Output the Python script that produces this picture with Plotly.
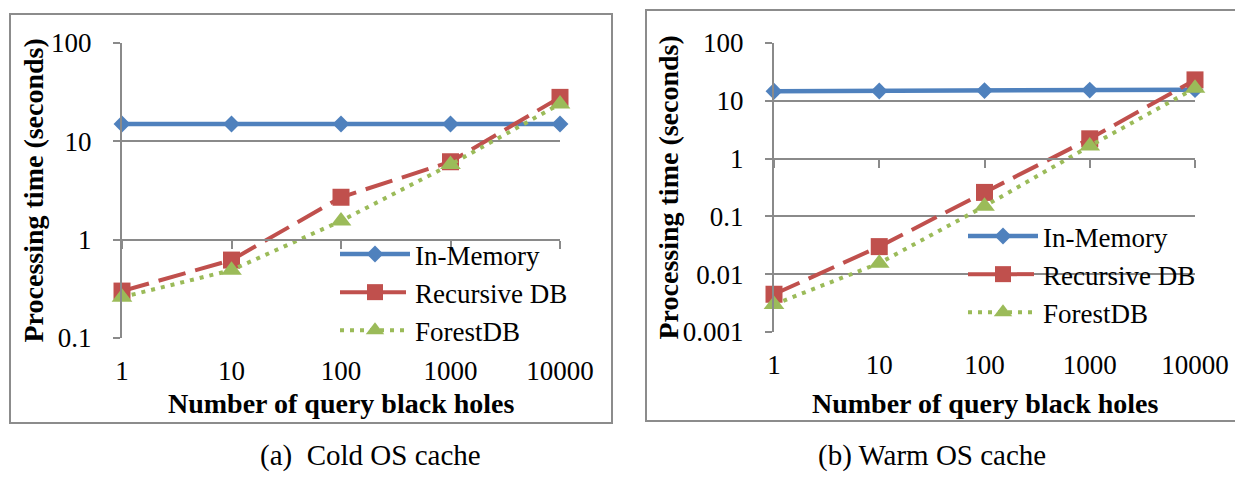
import plotly.graph_objects as go

# ---------------- data ----------------
x_holes = [1, 10, 100, 1000, 10000]
x_tick_labels = ["1", "10", "100", "1000", "10000"]
series_names = ["In-Memory", "Recursive DB", "ForestDB"]

cold_in_memory = [15.0, 15.0, 15.0, 15.0, 15.0]
cold_recursive = [0.30, 0.62, 2.7, 6.2, 28.0]
cold_forest = [0.26, 0.49, 1.55, 5.8, 24.0]

warm_in_memory = [14.6, 14.8, 15.0, 15.3, 15.6]
warm_recursive = [0.0045, 0.030, 0.26, 2.2, 23.0]
warm_forest = [0.0030, 0.0155, 0.15, 1.65, 16.5]

cold_y_ticks = [0.1, 1, 10, 100]
cold_y_labels = ["0.1", "1", "10", "100"]
warm_y_ticks = [0.001, 0.01, 0.1, 1, 10, 100]
warm_y_labels = ["0.001", "0.01", "0.1", "1", "10", "100"]

captions = ["(a)  Cold OS cache", "(b) Warm OS cache"]
x_title = "Number of query black holes"
y_title = "Processing time (seconds)"

# ---------------- style ----------------
WIN_W, WIN_H = 1243, 481
BODY = 8                       # default page margin around the plot div
W, H = WIN_W - 2 * BODY, WIN_H - 2 * BODY
FONT = "Liberation Serif, Times New Roman, DejaVu Serif, serif"
FS = 27
GRID = "#8a8a8a"
BLUE, RED, GREEN = "#4F81BD", "#C0504D", "#9BBB59"

styles = [
    dict(line=dict(color=BLUE, width=4.5, dash="solid"),
         marker=dict(symbol="diamond", size=13, color=BLUE)),
    dict(line=dict(color=RED, width=4, dash="28px,10px"),
         marker=dict(symbol="square", size=17, color=RED)),
    dict(line=dict(color=GREEN, width=4, dash="4px,6px"),
         marker=dict(symbol="triangle-up", size=18, color=GREEN)),
]

def px_x(p):
    """window pixel -> paper fraction"""
    return (p - BODY) / W

def px_y(p):
    return (WIN_H - BODY - p) / H

panels = [
    dict(xd=[px_x(122), px_x(560)], yd=[px_y(338), px_y(43)],
         yr=[-1, 2], yt=cold_y_ticks, yl=cold_y_labels,
         data=[cold_in_memory, cold_recursive, cold_forest],
         legend="legend", box=[10, 14, 612, 423], cap_x=370,
         ytitle_x=33),
    dict(xd=[px_x(774), px_x(1195)], yd=[px_y(332), px_y(43)],
         yr=[-3, 2], yt=warm_y_ticks, yl=warm_y_labels,
         data=[warm_in_memory, warm_recursive, warm_forest],
         legend="legend2", box=[646, 10, 1260, 421], cap_x=932,
         ytitle_x=668),
]

fig = go.Figure()
layout = dict(
    width=W, height=H, autosize=False,
    margin=dict(l=0, r=0, t=0, b=0, pad=0, autoexpand=False),
    paper_bgcolor="white", plot_bgcolor="rgba(0,0,0,0)",
    font=dict(family=FONT, size=FS, color="black"),
    showlegend=True,
)
shapes = []
annotations = []

for i, p in enumerate(panels):
    xa = "x" if i == 0 else "x%d" % (i + 1)
    ya = "y" if i == 0 else "y%d" % (i + 1)
    xk = "xaxis" if i == 0 else "xaxis%d" % (i + 1)
    yk = "yaxis" if i == 0 else "yaxis%d" % (i + 1)
    for name, vals, st in zip(series_names, p["data"], styles):
        fig.add_trace(go.Scatter(
            x=x_holes, y=vals, name=name, mode="lines+markers",
            line=st["line"], marker=st["marker"],
            xaxis=xa, yaxis=ya, legend=p["legend"], cliponaxis=False,
        ))
    layout[xk] = dict(
        type="log", range=[0, 4], domain=p["xd"], anchor=ya,
        tickvals=x_holes, ticktext=x_tick_labels, automargin=False,
        showgrid=False, zeroline=False, showline=False,
        ticks="outside", ticklen=0, ticklabelstandoff=9,
        tickfont=dict(size=FS, family=FONT),
    )
    layout[yk] = dict(
        type="log", range=p["yr"], domain=p["yd"], anchor=xa,
        tickvals=p["yt"], ticktext=p["yl"], automargin=False,
        showgrid=True, gridcolor=GRID, gridwidth=2,
        showline=True, linecolor=GRID, linewidth=2,
        ticks="outside", ticklen=7, tickcolor=GRID, tickwidth=2,
        ticklabelstandoff=16, zeroline=False,
        tickfont=dict(size=FS, family=FONT),
    )
    # horizontal axis line crossing at y = 1 (Excel default for log axes)
    frac = (0 - p["yr"][0]) / (p["yr"][1] - p["yr"][0])
    pos = p["yd"][0] + frac * (p["yd"][1] - p["yd"][0])
    ok = "xaxis%d" % (i + 3)
    layout[ok] = dict(
        type="log", range=[0, 4], domain=p["xd"], overlaying=xa,
        anchor="free", position=pos, side="bottom", automargin=False,
        tickvals=x_holes, showticklabels=False,
        showgrid=False, zeroline=False,
        showline=True, linecolor=GRID, linewidth=2,
        ticks="outside", ticklen=8, tickcolor=GRID, tickwidth=2,
    )
    fig.add_trace(go.Scatter(x=[1], y=[1], xaxis="x%d" % (i + 3), yaxis=ya,
                             mode="markers", marker=dict(opacity=0),
                             showlegend=False, hoverinfo="skip"))
    # outer box
    b = p["box"]
    shapes.append(dict(type="rect", xref="paper", yref="paper",
                       x0=px_x(b[0]), x1=px_x(b[2]), y0=px_y(b[3]), y1=px_y(b[1]),
                       line=dict(color="#8c8c8c", width=2), layer="below"))
    # axis titles
    annotations.append(dict(
        text="<b>%s</b>" % x_title, xref="paper", yref="paper",
        x=(p["xd"][0] + p["xd"][1]) / 2, y=px_y(403),
        xanchor="center", yanchor="middle", showarrow=False,
        font=dict(size=28, family=FONT)))
    annotations.append(dict(
        text="<b>%s</b>" % y_title, xref="paper", yref="paper",
        x=px_x(p["ytitle_x"]), y=(p["yd"][0] + p["yd"][1]) / 2,
        xanchor="center", yanchor="middle", showarrow=False, textangle=-90,
        font=dict(size=28, family=FONT)))
    annotations.append(dict(
        text=captions[i], xref="paper", yref="paper",
        x=px_x(p["cap_x"]), y=px_y(455), xanchor="center", yanchor="middle",
        showarrow=False, font=dict(size=29, family=FONT)))

layout["legend"] = dict(x=px_x(335), y=px_y(230), xanchor="left", yanchor="top",
                        bgcolor="rgba(0,0,0,0)", itemwidth=70,
                        font=dict(size=FS, family=FONT))
layout["legend2"] = dict(x=px_x(963), y=px_y(212), xanchor="left", yanchor="top",
                         bgcolor="rgba(0,0,0,0)", itemwidth=70,
                         font=dict(size=FS, family=FONT))
layout["shapes"] = shapes
layout["annotations"] = annotations
fig.update_layout(**layout)

fig.write_html("out.html")
